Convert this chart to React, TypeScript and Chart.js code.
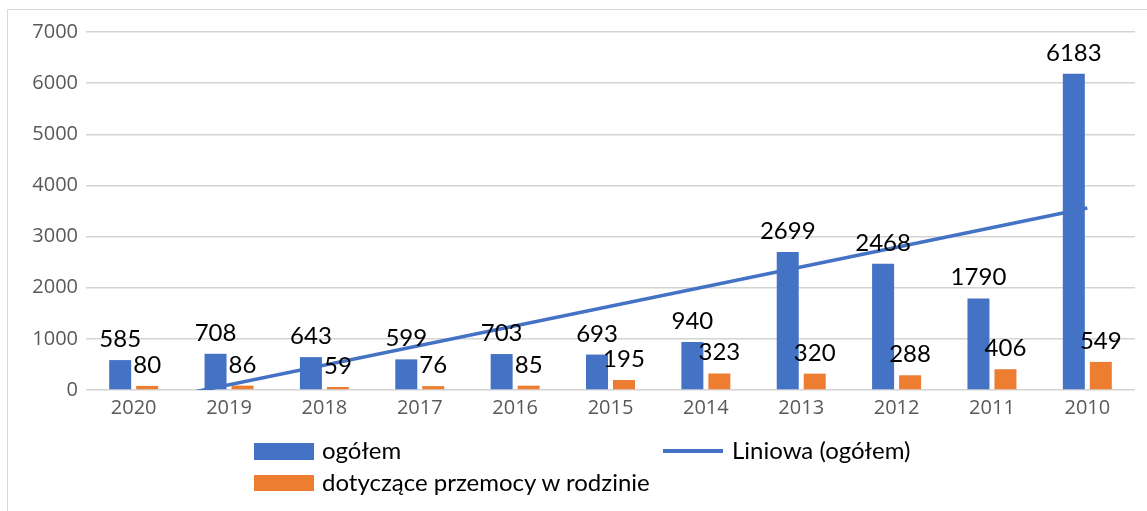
import React, { useEffect, useRef } from "react";
import { Chart, registerables } from "chart.js";

Chart.register(...registerables);

const categories = ["2020", "2019", "2018", "2017", "2016", "2015", "2014", "2013", "2012", "2011", "2010"];
const totalValues = [585, 708, 643, 599, 703, 693, 940, 2699, 2468, 1790, 6183];
const familyValues = [80, 86, 59, 76, 85, 195, 323, 320, 288, 406, 549];
// linear trend of "ogółem", read at its two ends (first and last category)
const trendValues: (number | null)[] = [-282, null, null, null, null, null, null, null, null, null, 3557];
const yMin = 0;
const yMax = 7000;
const yStep = 1000;

const seriesNames = ["ogółem", "dotyczące przemocy w rodzinie", "Liniowa (ogółem)"];

const BLUE = "#4472C4";
const ORANGE = "#ED7D31";

const labelPlugin = {
  id: "barValueLabels",
  afterDatasetsDraw(chart: any) {
    const ctx = chart.ctx;
    ctx.save();
    ctx.font = "24px Lato, 'Open Sans', sans-serif";
    ctx.fillStyle = "#000000";
    ctx.textAlign = "center";
    ctx.textBaseline = "alphabetic";
    chart.data.datasets.forEach((ds: any, i: number) => {
      if (ds.type === "line") return;
      const meta = chart.getDatasetMeta(i);
      meta.data.forEach((el: any, j: number) => {
        const v = ds.data[j];
        ctx.fillText(String(v), el.x, el.y - 13);
      });
    });
    ctx.restore();
  },
};

export default function App() {
  const ref = useRef<HTMLCanvasElement | null>(null);

  useEffect(() => {
    document.body.style.margin = "0";
    const canvas = ref.current;
    if (!canvas) return;
    const chart = new Chart(canvas, {
      type: "bar",
      data: {
        labels: categories,
        datasets: [
          {
            type: "line",
            label: seriesNames[2],
            data: trendValues,
            borderColor: BLUE,
            borderWidth: 3.5,
            pointRadius: 0,
            spanGaps: true,
            fill: false,
            order: 0,
          } as any,
          {
            type: "bar",
            label: seriesNames[0],
            data: totalValues,
            backgroundColor: BLUE,
            categoryPercentage: 0.566,
            barPercentage: 0.815,
            order: 1,
          },
          {
            type: "bar",
            label: seriesNames[1],
            data: familyValues,
            backgroundColor: ORANGE,
            categoryPercentage: 0.566,
            barPercentage: 0.815,
            order: 2,
          },
        ],
      },
      options: {
        responsive: false,
        animation: false,
        devicePixelRatio: 1,
        layout: { padding: { top: 32, left: 0, right: 12, bottom: 81 } },
        plugins: {
          legend: { display: false },
          tooltip: { enabled: false },
        },
        scales: {
          x: {
            grid: { display: false, drawTicks: false },
            border: { display: false },
            ticks: {
              color: "#595959",
              font: { family: "'Open Sans', sans-serif", size: 20 },
              padding: 6,
            },
            afterFit: (s: any) => {
              s.height = 40;
            },
          },
          y: {
            min: yMin,
            max: yMax,
            grid: { color: "#d4d4d4", lineWidth: 1.5, drawTicks: false },
            border: { display: false },
            ticks: {
              stepSize: yStep,
              color: "#595959",
              font: { family: "'Open Sans', sans-serif", size: 20 },
              padding: 8,
              callback: (v: any) => String(v),
            },
            afterFit: (s: any) => {
              s.width = 86;
            },
          },
        },
      } as any,
      plugins: [labelPlugin],
    });
    return () => chart.destroy();
  }, []);

  const legendText: React.CSSProperties = {
    position: "absolute",
    font: "24px Lato, 'Open Sans', sans-serif",
    color: "#000",
    lineHeight: "28px",
    whiteSpace: "nowrap",
  };

  return (
    <div
      style={{
        position: "fixed",
        left: 0,
        top: 0,
        width: 1147,
        height: 511,
        overflow: "hidden",
        background: "#fff",
      }}
    >
      <div
        style={{
          position: "absolute",
          left: 7,
          top: 9,
          width: 1200,
          height: 600,
          border: "1.5px solid #d9d9d9",
          boxSizing: "border-box",
        }}
      />
      <canvas ref={ref} width={1147} height={511} style={{ position: "absolute", left: 0, top: 0, width: 1147, height: 511 }} />
      <div style={{ position: "absolute", left: 254, top: 443, width: 60, height: 17, background: BLUE }} />
      <div style={{ ...legendText, left: 322, top: 436 }}>{seriesNames[0]}</div>
      <div style={{ position: "absolute", left: 254, top: 475, width: 60, height: 16, background: ORANGE }} />
      <div style={{ ...legendText, left: 322, top: 468 }}>{seriesNames[1]}</div>
      <div style={{ position: "absolute", left: 663, top: 449, width: 60, height: 4, background: BLUE }} />
      <div style={{ ...legendText, left: 732, top: 436 }}>{seriesNames[2]}</div>
    </div>
  );
}
